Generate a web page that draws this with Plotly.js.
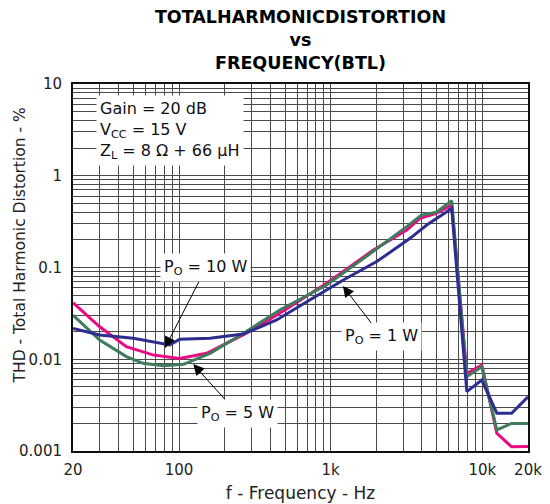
<!DOCTYPE html>
<html>
<head>
<meta charset="utf-8">
<script src="https://cdn.plot.ly/plotly-3.0.1.min.js"></script>
<style>html,body{margin:0;padding:0;background:#fff;}#chart{width:550px;height:504px;}</style>
</head>
<body>
<div id="chart"></div>
<script>
// Frequencies (Hz) and THD (%)
const freq10W = [20, 30, 45, 68, 101, 152, 265, 462, 940, 1912, 3176, 3876, 4980, 6280, 7900, 9920, 12460, 15600, 20000];
const thd10W  = [0.0413, 0.0226, 0.0137, 0.0111, 0.0102, 0.0116, 0.0184, 0.0317, 0.0673, 0.155, 0.256, 0.344, 0.39, 0.48, 0.00703, 0.00865, 0.00156, 0.00111, 0.00112];

const freq5W = [20, 30, 45, 58, 79, 107, 160, 265, 462, 940, 1912, 2590, 3176, 3960, 4980, 6280, 7900, 9920, 12460, 15600, 20000];
const thd5W  = [0.0303, 0.0162, 0.0107, 0.00904, 0.0085, 0.0088, 0.0116, 0.0191, 0.0344, 0.0644, 0.150, 0.217, 0.279, 0.373, 0.40, 0.535, 0.00646, 0.0083, 0.0017, 0.0020, 0.0020];

const freq1W = [20, 30, 50, 75, 87, 101, 160, 265, 440, 728, 1212, 2012, 3340, 4300, 6280, 7900, 9920, 12460, 15600, 20000];
const thd1W  = [0.0217, 0.0184, 0.0169, 0.0149, 0.0143, 0.0165, 0.0169, 0.0188, 0.0268, 0.0443, 0.0731, 0.116, 0.208, 0.29, 0.44, 0.00444, 0.00594, 0.00258, 0.00258, 0.0039];

const xTickValues = [20, 100, 1000, 10000, 20000];
const xTickLabels = ['20', '100', '1k', '10k', '20k'];
const yTickValues = [0.001, 0.01, 0.1, 1, 10];
const yTickLabels = ['0.001', '0.01', '0.1', '1', '10'];

const seriesNames = ['P<sub>O</sub> = 10 W', 'P<sub>O</sub> = 5 W', 'P<sub>O</sub> = 1 W'];

// grid values: every 1..9 x decade within range, labels only on tick values
function gridTicks(lo, hi, labelVals, labelTxt) {
  const vals = [], txt = [];
  for (let e = -4; e <= 5; e++) {
    for (let d = 1; d <= 9; d++) {
      const v = +(d * Math.pow(10, e)).toPrecision(6);
      if (v >= lo * 0.999 && v <= hi * 1.001) {
        vals.push(v);
        const i = labelVals.findIndex(t => Math.abs(t - v) / v < 1e-6);
        txt.push(i >= 0 ? labelTxt[i] : '');
      }
    }
  }
  return {vals, txt};
}
const xg = gridTicks(20, 20000, xTickValues, xTickLabels);
const yg = gridTicks(0.001, 10, yTickValues, yTickLabels);

const FONT = 'DejaVu Sans, Verdana, sans-serif';

const traces = [
  {x: freq10W, y: thd10W, mode: 'lines', line: {color: '#EA0A84', width: 3}, name: seriesNames[0]},
  {x: freq5W,  y: thd5W,  mode: 'lines', line: {color: '#3E7C5C', width: 3}, name: seriesNames[1]},
  {x: freq1W,  y: thd1W,  mode: 'lines', line: {color: '#2B2E8F', width: 3}, name: seriesNames[2]}
];

function arrowNote(text, f, v, ax, ay) {
  return {
    text: text, x: Math.log10(f), y: Math.log10(v), xref: 'x', yref: 'y',
    ax: ax, ay: ay, showarrow: true, arrowhead: 2, arrowsize: 2.2, arrowwidth: 1, arrowcolor: '#000',
    bgcolor: '#fff', borderpad: 3, font: {family: FONT, size: 16, color: '#111'}
  };
}

const layout = {
  width: 550, height: 504,
  margin: {l: 73, r: 22, t: 84, b: 53},
  paper_bgcolor: '#fff', plot_bgcolor: '#fff',
  showlegend: false,
  font: {family: FONT, size: 15, color: '#222'},
  title: {
    text: '<b>TOTALHARMONICDISTORTION</b><br><b>vs</b><br><b>FREQUENCY(BTL)</b>',
    font: {family: FONT, size: 17.5, color: '#000'},
    x: 0.5, xref: 'paper', xanchor: 'center', y: 1, yref: 'paper', yanchor: 'bottom',
    pad: {b: 61}
  },
  xaxis: {
    type: 'log', range: [Math.log10(20), Math.log10(20000)],
    tickmode: 'array', tickvals: xg.vals, ticktext: xg.txt,
    showgrid: true, gridcolor: '#4a4a4a', gridwidth: 1,
    showline: true, mirror: true, linecolor: '#111', linewidth: 2,
    ticks: '', zeroline: false, tickfont: {family: FONT, size: 15, color: '#222'},
    ticklabelstandoff: 4,
    title: {text: 'f - Frequency - Hz', font: {family: FONT, size: 17, color: '#222'}, standoff: 9}
  },
  yaxis: {
    type: 'log', range: [-3, 1],
    tickmode: 'array', tickvals: yg.vals, ticktext: yg.txt,
    showgrid: true, gridcolor: '#4a4a4a', gridwidth: 1,
    showline: true, mirror: true, linecolor: '#111', linewidth: 2,
    ticks: '', zeroline: false, tickfont: {family: FONT, size: 15, color: '#222'},
    ticklabelstandoff: 6
  },
  annotations: [
    {
      text: 'Gain = 20 dB<br>V<sub>CC</sub> = 15 V<br>Z<sub>L</sub> = 8 Ω + 66 µH',
      xref: 'paper', yref: 'paper', x: 0.0505, y: 0.97, xanchor: 'left', yanchor: 'top',
      align: 'left', showarrow: false, bgcolor: '#fff', borderpad: 3,
      font: {family: FONT, size: 16, color: '#111'}
    },
    arrowNote(seriesNames[0], 80.8, 0.0133, 41, -80),
    arrowNote(seriesNames[1], 124, 0.00887, 44, 49),
    arrowNote(seriesNames[2], 1204, 0.0629, 39, 51),
    {
      text: 'THD - Total Harmonic Distortion - %', xref: 'paper', yref: 'paper',
      x: -0.1165, y: 0.56, xanchor: 'center', yanchor: 'middle', textangle: -90, showarrow: false,
      font: {family: FONT, size: 15.5, color: '#222'}
    }
  ]
};

Plotly.newPlot('chart', traces, layout, {displayModeBar: false, staticPlot: true});
</script>
</body>
</html>
